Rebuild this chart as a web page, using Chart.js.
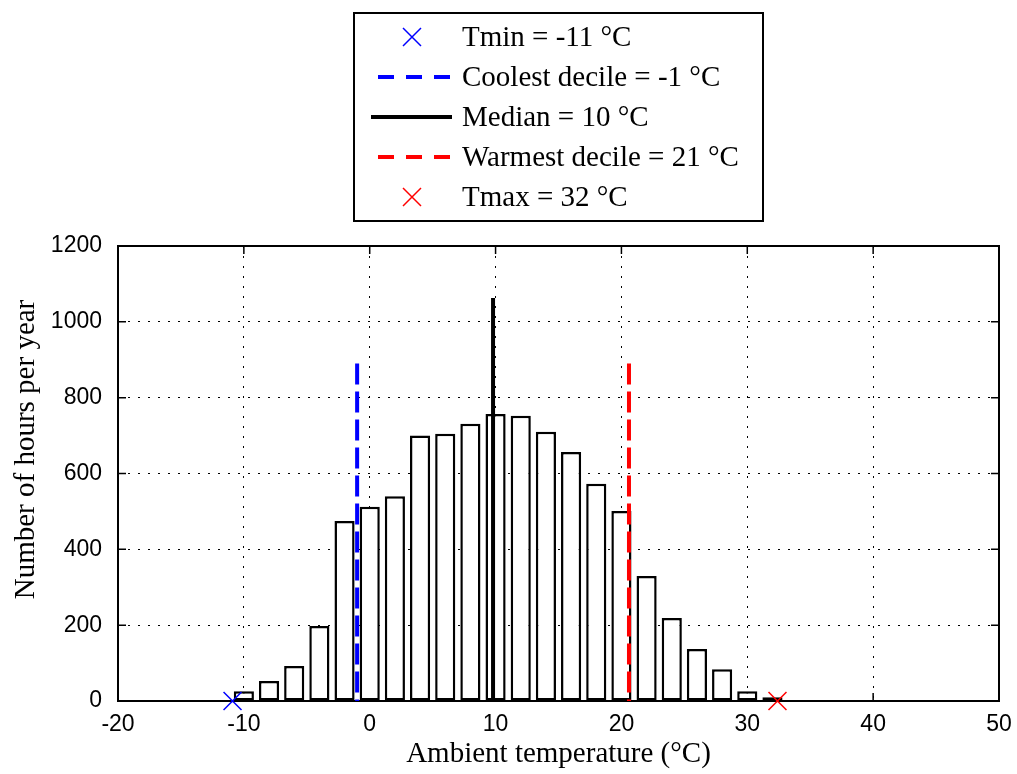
<!DOCTYPE html>
<html>
<head>
<meta charset="utf-8">
<title>Ambient temperature histogram</title>
<script src="https://cdn.jsdelivr.net/npm/chart.js@4.4.1/dist/chart.umd.min.js"></script>
<style>
  html, body { margin: 0; padding: 0; background: #fff; }
  #wrap { width: 1017px; height: 774px; }
</style>
</head>
<body>
<div id="wrap"><canvas id="chartTemp" width="1017" height="774"></canvas></div>
<script>
// histogram bins (centre, degC) and hours per year
const binCenters = [-10, -8, -6, -4, -2, 0, 2, 4, 6, 8, 10, 12, 14, 16, 18, 20, 22, 24, 26, 28, 30, 32];
const hoursPerYear = [26, 53, 92, 198, 475, 512, 540, 700, 705, 731, 757, 752, 710, 657, 573, 501, 330, 219, 137, 84, 26, 10];

const xTicks = [-20, -10, 0, 10, 20, 30, 40, 50];
const yTicks = [0, 200, 400, 600, 800, 1000, 1200];

// markers and reference lines: [x, y]
const tminPoint = [-10.9, 0];
const tmaxPoint = [32.4, 0];
const coolestLine = [-1, 890];
const medianLine = [9.8, 1063];
const warmestLine = [20.6, 890];

const legendLabels = [
  "Tmin = -11 \u00B0C",
  "Coolest decile = -1 \u00B0C",
  "Median = 10 \u00B0C",
  "Warmest decile = 21 \u00B0C",
  "Tmax = 32 \u00B0C"
];

const serif = "'Liberation Serif', 'Times New Roman', serif";
const sans = "'Liberation Sans', Arial, sans-serif";
const BLUE = "#0000ff";
const RED = "#ff0000";

function vline(p) {
  // from top to axis so dashes start at the top like the original
  return [{ x: p[0], y: p[1] }, { x: p[0], y: 0 }];
}

// frame + inward tick marks (matlab style)
const frameTicks = {
  id: "frameTicks",
  beforeDatasetsDraw(chart) {
    const { ctx, chartArea: a, scales } = chart;
    ctx.save();
    ctx.strokeStyle = "#000";
    ctx.lineWidth = 1.5;
    ctx.beginPath();
    scales.x.ticks.forEach(t => {
      const px = scales.x.getPixelForValue(t.value);
      ctx.moveTo(px, a.bottom); ctx.lineTo(px, a.bottom - 8);
      ctx.moveTo(px, a.top); ctx.lineTo(px, a.top + 8);
    });
    scales.y.ticks.forEach(t => {
      const py = scales.y.getPixelForValue(t.value);
      ctx.moveTo(a.left, py); ctx.lineTo(a.left + 8, py);
      ctx.moveTo(a.right, py); ctx.lineTo(a.right - 8, py);
    });
    ctx.stroke();
    ctx.lineWidth = 2;
    ctx.strokeRect(a.left, a.top, a.right - a.left, a.bottom - a.top);
    ctx.restore();
  }
};

const yTitle = {
  id: "yTitle",
  afterDraw(chart) {
    const { ctx, chartArea: a } = chart;
    ctx.save();
    ctx.translate(26, (a.top + a.bottom) / 2 - 24);
    ctx.rotate(-Math.PI / 2);
    ctx.font = "29px " + serif;
    ctx.fillStyle = "#000";
    ctx.textAlign = "center";
    ctx.textBaseline = "middle";
    ctx.fillText("Number of hours per year", 0, 0);
    ctx.restore();
  }
};

const legendBox = {
  id: "legendBox",
  afterDraw(chart) {
    const { ctx, chartArea: a } = chart;
    const w = 409, h = 208, top = 13;
    const left = (a.left + a.right) / 2 - w / 2;
    ctx.save();
    ctx.fillStyle = "#fff";
    ctx.fillRect(left, top, w, h);
    ctx.strokeStyle = "#000";
    ctx.lineWidth = 2;
    ctx.strokeRect(left, top, w, h);
    const items = chart.data.datasets.filter(d => d.label);
    items.forEach((d, i) => {
      const y = top + 24 + i * 40;
      ctx.strokeStyle = d.borderColor;
      if (d.showLine === false) {
        const cx = left + 58, r = 9;
        ctx.lineWidth = 1.5;
        ctx.setLineDash([]);
        ctx.beginPath();
        ctx.moveTo(cx - r, y - r); ctx.lineTo(cx + r, y + r);
        ctx.moveTo(cx - r, y + r); ctx.lineTo(cx + r, y - r);
        ctx.stroke();
      } else {
        ctx.lineWidth = 4;
        ctx.beginPath();
        if (d.borderDash) {
          ctx.setLineDash([16, 12]);
          ctx.moveTo(left + 24, y); ctx.lineTo(left + 98, y);
        } else {
          ctx.setLineDash([]);
          ctx.moveTo(left + 17, y); ctx.lineTo(left + 98, y);
        }
        ctx.stroke();
        ctx.setLineDash([]);
      }
      ctx.fillStyle = "#000";
      ctx.font = "29px " + serif;
      ctx.textAlign = "left";
      ctx.textBaseline = "middle";
      ctx.fillText(d.label, left + 108, y + 1);
    });
    ctx.restore();
  }
};

const ctx = document.getElementById("chartTemp").getContext("2d");

new Chart(ctx, {
  type: "bar",
  data: {
    datasets: [
      {
        type: "line", label: legendLabels[0],
        data: [{ x: tminPoint[0], y: tminPoint[1] }],
        showLine: false, pointStyle: "crossRot", pointRadius: 12.7,
        borderColor: BLUE, backgroundColor: BLUE, pointBorderWidth: 1.5,
        clip: false, order: 1
      },
      {
        type: "line", label: legendLabels[1],
        data: vline(coolestLine),
        borderColor: BLUE, borderWidth: 4, borderDash: [21, 7],
        pointRadius: 0, clip: false, order: 2
      },
      {
        type: "line", label: legendLabels[2],
        data: vline(medianLine),
        borderColor: "#000", borderWidth: 4,
        pointRadius: 0, clip: false, order: 2
      },
      {
        type: "line", label: legendLabels[3],
        data: vline(warmestLine),
        borderColor: RED, borderWidth: 4, borderDash: [21, 7],
        pointRadius: 0, clip: false, order: 2
      },
      {
        type: "line", label: legendLabels[4],
        data: [{ x: tmaxPoint[0], y: tmaxPoint[1] }],
        showLine: false, pointStyle: "crossRot", pointRadius: 12.7,
        borderColor: RED, backgroundColor: RED, pointBorderWidth: 1.5,
        clip: false, order: 1
      },
      {
        type: "bar",
        data: binCenters.map((x, i) => ({ x, y: hoursPerYear[i] })),
        backgroundColor: "#fff",
        borderColor: "#000",
        borderWidth: 2.5,
        borderSkipped: false,
        barPercentage: 0.8,
        categoryPercentage: 1,
        order: 10
      }
    ]
  },
  options: {
    responsive: false,
    animation: false,
    layout: { padding: { top: 246, right: 18, left: 0, bottom: 0 } },
    plugins: {
      legend: { display: false },
      tooltip: { enabled: false }
    },
    scales: {
      x: {
        type: "linear",
        min: -20, max: 50,
        offset: false,
        afterBuildTicks: s => { s.ticks = xTicks.map(v => ({ value: v })); },
        afterFit: s => { s.height = 73; s.paddingLeft = 0; s.paddingRight = 0; },
        grid: { color: "#000", lineWidth: 1, drawTicks: false, offset: false },
        border: { display: false, dash: [2, 8] },
        ticks: {
          font: { family: sans, size: 23 }, color: "#000", padding: 10,
          maxRotation: 0, autoSkip: false, callback: v => String(v)
        },
        title: {
          display: true,
          text: "Ambient temperature (\u00B0C)",
          font: { family: serif, size: 29 },
          color: "#000",
          padding: { top: 0, bottom: 2 }
        }
      },
      y: {
        min: 0, max: 1200,
        afterBuildTicks: s => { s.ticks = yTicks.map(v => ({ value: v })); },
        afterFit: s => { s.width = 118; s.paddingTop = 0; s.paddingBottom = 0; },
        grid: { color: "#000", lineWidth: 1, drawTicks: false },
        border: { display: false, dash: [2, 8] },
        ticks: { font: { family: sans, size: 23 }, color: "#000", padding: 16, callback: v => String(v) }
      }
    }
  },
  plugins: [frameTicks, yTitle, legendBox]
});
</script>
</body>
</html>
